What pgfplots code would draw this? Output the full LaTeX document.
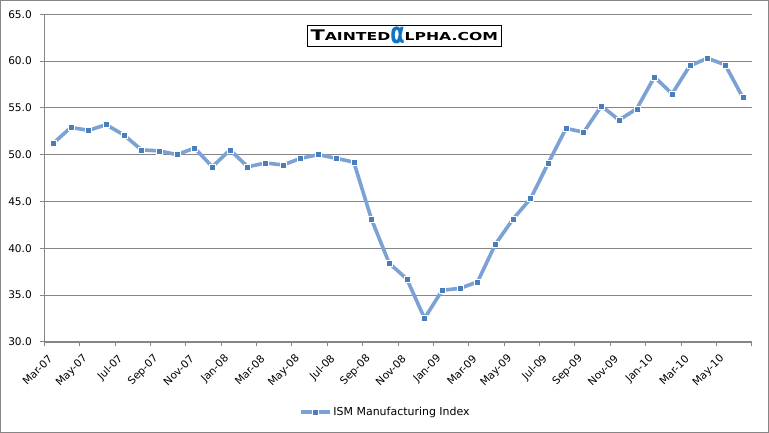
\documentclass[border=0pt]{standalone}
\usepackage{pgfplots}
\pgfplotsset{compat=1.18}
\usepackage{fontspec}
\setmainfont{DejaVu Sans}
\newfontfamily\wmfont{DejaVu Sans}
\definecolor{linecol}{HTML}{7CA1D4}
\definecolor{markcol}{HTML}{4A7EBB}
\definecolor{gridcol}{HTML}{868686}
\definecolor{alphablue}{HTML}{0F74C4}
\begin{document}
\begin{tikzpicture}
\path[use as bounding box] (0,0) rectangle (769bp,433bp);
\fill[white] (0,0) rectangle (769bp,433bp);
\begin{axis}[
  at={(44.3bp,91.3bp)}, anchor=south west,
  scale only axis, width=707.4bp, height=327.4bp,
  xmin=0, xmax=40, ymin=30, ymax=65,
  axis x line*=bottom, axis y line*=left,
  axis line style={gridcol, -},
  xtick={0,2,...,40},
  xticklabels={Mar-07,May-07,Jul-07,Sep-07,Nov-07,Jan-08,Mar-08,May-08,Jul-08,Sep-08,Nov-08,Jan-09,Mar-09,May-09,Jul-09,Sep-09,Nov-09,Jan-10,Mar-10,May-10,{}},
  ytick={30,35,...,65},
  ymajorgrids, grid style={gridcol, line width=0.8bp},
  tick align=outside, major tick length=4bp,
  tick style={gridcol, line width=0.8bp},
  /pgf/number format/.cd, fixed, fixed zerofill, precision=1, assume math mode=true,
  /pgfplots/.cd,
  ticklabel style={font=\fontsize{10.6}{12}\selectfont, text=black},
  yticklabel style={xshift=-5bp},
  xticklabel style={xshift=8.5bp, yshift=-9bp, rotate=45, anchor=east},
  legend style={at={(0.482,-0.214)}, anchor=center, draw=none, fill=none,
    font=\fontsize{11}{12}\selectfont},
  legend cell align=left,
  legend image code/.code={
    \draw[#1, mark repeat=2, mark phase=2] plot coordinates {(0bp,0bp) (14.5bp,0bp) (29bp,0bp)};
  },
]
\addplot[color=linecol, line width=3.6bp, mark=square*, mark size=3bp,
  mark options={fill=markcol, draw=white, line width=0.5bp}]
coordinates {
(0.5,51.2)(1.5,52.9)(2.5,52.6)(3.5,53.2)(4.5,52.1)(5.5,50.5)(6.5,50.4)(7.5,50.0)
(8.5,50.7)(9.5,48.7)(10.5,50.5)(11.5,48.7)(12.5,49.1)(13.5,48.9)(14.5,49.6)(15.5,50.0)
(16.5,49.6)(17.5,49.2)(18.5,43.1)(19.5,38.4)(20.5,36.7)(21.5,32.5)(22.5,35.5)(23.5,35.7)
(24.5,36.4)(25.5,40.4)(26.5,43.1)(27.5,45.3)(28.5,49.1)(29.5,52.8)(30.5,52.4)(31.5,55.2)
(32.5,53.7)(33.5,54.9)(34.5,58.3)(35.5,56.5)(36.5,59.5)(37.5,60.3)(38.5,59.6)(39.5,56.1)
};
\addlegendentry{ISM Manufacturing Index}
\end{axis}
\node[draw=black, line width=0.8bp, fill=white, minimum width=194.7bp, minimum height=20.3bp, inner sep=0pt]
  at (404.3bp,397.15bp)
  {\wmfont\bfseries\scalebox{1.43}[1]{\fontsize{14.7}{14}\selectfont T\fontsize{11}{11}\selectfont AINTED}\raisebox{-3.3bp}{\textcolor{alphablue}{\scalebox{0.95}[1.35]{\fontsize{22}{22}\selectfont α}}}\scalebox{1.43}[1]{\fontsize{11}{11}\selectfont LPHA.COM}};
\draw[gridcol, line width=1bp] (0.5bp,0.5bp) rectangle (768.5bp,432.5bp);
\end{tikzpicture}
\end{document}
